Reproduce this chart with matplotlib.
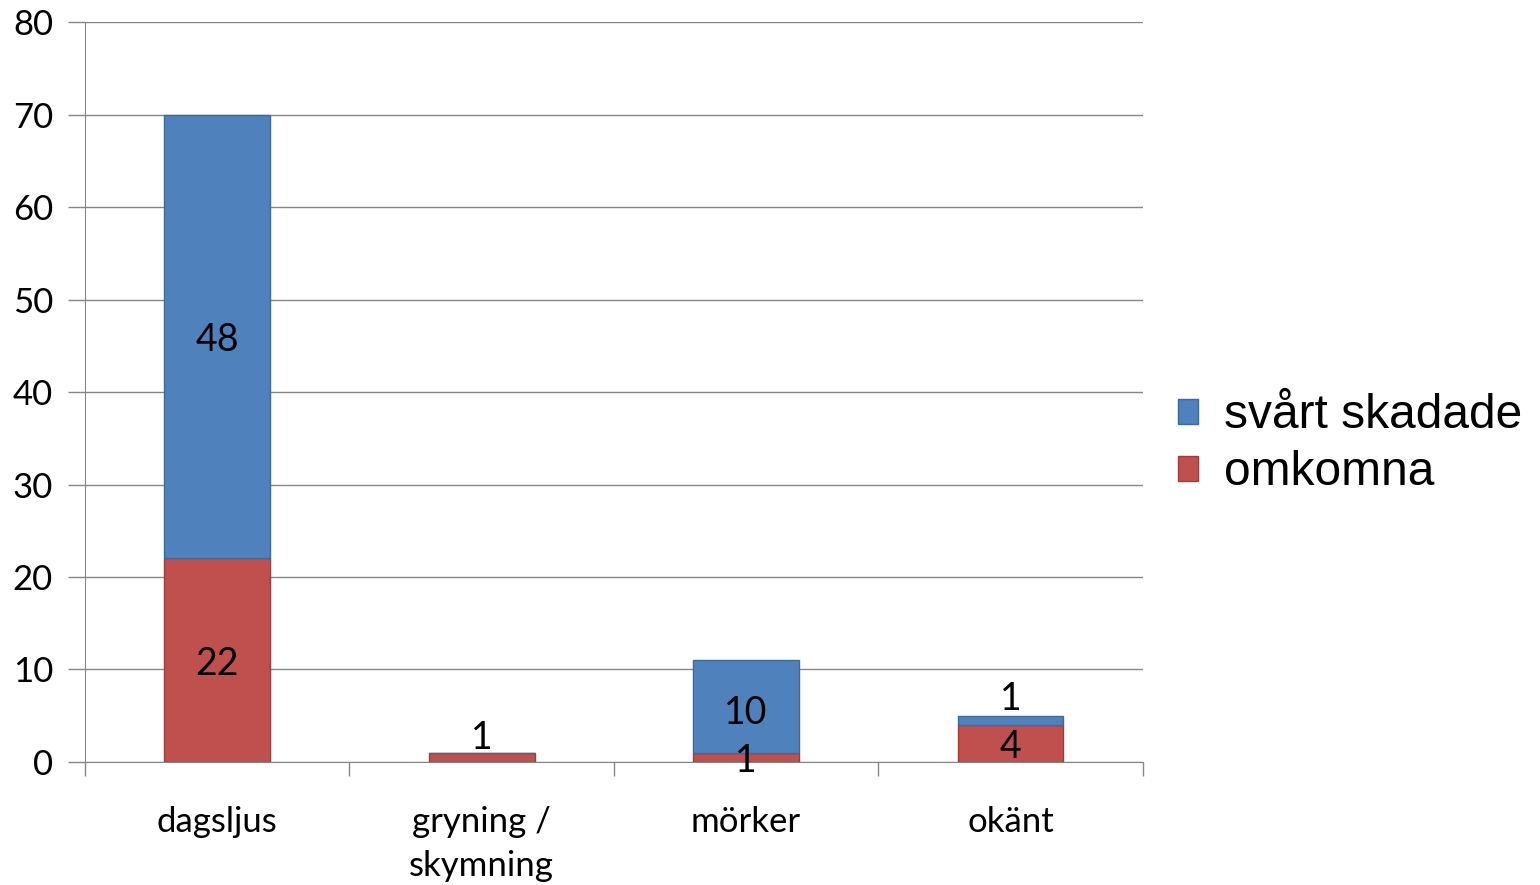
import numpy as np
import matplotlib
matplotlib.use('Agg')
import matplotlib.pyplot as plt

#%% data
categories = ['dagsljus', 'gryning /\nskymning', 'mörker', 'okänt']
omkomna = [22, 1, 1, 4]
svart_skadade = [48, 0, 10, 1]

blue = '#4F81BD'
red = '#C0504D'
grey = '#868686'

plt.rcParams['font.family'] = ['Lato', 'DejaVu Sans']

fig = plt.figure(figsize=(15.4, 8.85), dpi=100)
ax = fig.add_axes([0.0552, 0.139, 0.6868, 0.8361])

x = np.arange(len(categories))
w = 0.4
b1 = ax.bar(x, omkomna, w, color=red, edgecolor='#9B3D3A', linewidth=1, label='omkomna', zorder=3)
b2 = ax.bar(x, svart_skadade, w, bottom=omkomna, color=blue, edgecolor='#3B6A9C', linewidth=1,
            label='svårt skadade', zorder=3)

# data labels (some moved by hand in the original)
lab_fs = 27
for i in range(len(categories)):
    if omkomna[i] > 0:
        y = omkomna[i] / 2
        if i == 1:
            y = omkomna[i] + 2.0
        ax.text(x[i], y, str(omkomna[i]), ha='center', va='center_baseline', fontsize=lab_fs, zorder=4)
    if svart_skadade[i] > 0:
        y = omkomna[i] + svart_skadade[i] / 2
        if i == 3:
            y = omkomna[i] + svart_skadade[i] + 2.2
        elif i == 2:
            y = omkomna[i] + svart_skadade[i] / 2 - 0.3
        ax.text(x[i], y, str(svart_skadade[i]), ha='center', va='center_baseline', fontsize=lab_fs, zorder=4)

ax.set_xlim(-0.5, len(categories) - 0.5)
ax.set_ylim(0, 80)
ax.set_yticks(np.arange(0, 81, 10))
ax.yaxis.grid(True, color=grey, linewidth=1, zorder=0)

ax.set_xticks(x)
ax.set_xticklabels(categories, fontsize=25, linespacing=1.45)
ax.set_xticks(np.arange(-0.5, len(categories), 1), minor=True)
ax.tick_params(axis='x', which='major', length=0, pad=32)
ax.tick_params(axis='x', which='minor', length=10, color=grey, width=1)
ax.tick_params(axis='y', length=12, color=grey, width=1, labelsize=25, pad=11)

for s in ['top', 'right']:
    ax.spines[s].set_visible(False)
ax.spines['left'].set_color(grey)
ax.spines['bottom'].set_color(grey)

handles, labels = ax.get_legend_handles_labels()
leg = fig.legend(handles[::-1], labels[::-1], loc='center left', bbox_to_anchor=(0.765, 0.498),
                 frameon=False, prop={'family': 'Liberation Sans', 'size': 34.5},
                 borderpad=0, borderaxespad=0,
                 handlelength=0.42, handleheight=0.42, handletextpad=0.54, labelspacing=0.25)

fig.savefig('out.png', dpi=100)
plt.close()
